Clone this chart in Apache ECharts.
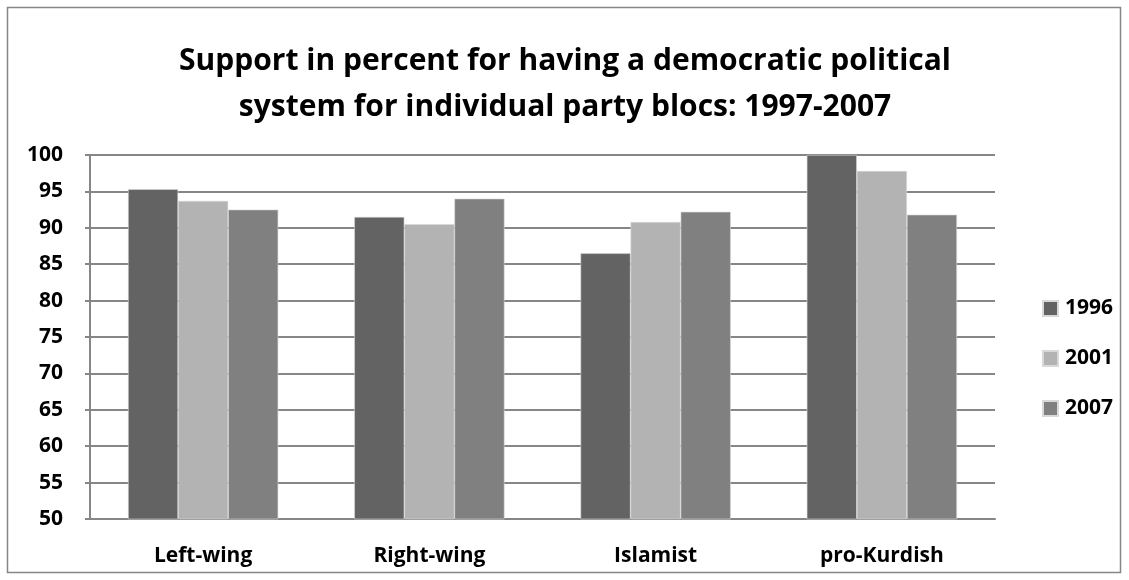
<!DOCTYPE html>
<html>
<head>
<meta charset="utf-8">
<script src="https://cdn.jsdelivr.net/npm/echarts@6/dist/echarts.min.js"></script>
<style>
  html, body { margin: 0; padding: 0; background: #fff; }
  #chart { width: 1129px; height: 580px; }
</style>
</head>
<body>
<div id="chart"></div>
<script>
// Party blocs and yearly support values (percent)
const categories = ['Left-wing', 'Right-wing', 'Islamist', 'pro-Kurdish'];
const seriesNames = ['1996', '2001', '2007'];
const values1996 = [95.3, 91.5, 86.5, 100];
const values2001 = [93.7, 90.5, 90.8, 97.8];
const values2007 = [92.5, 94.0, 92.2, 91.8];
const yTicks = [50, 55, 60, 65, 70, 75, 80, 85, 90, 95, 100];

const colors = ['#636363', '#b3b3b3', '#808080'];
const font = '"Open Sans", "DejaVu Sans", sans-serif';

const chart = echarts.init(document.getElementById('chart'), null, { renderer: 'canvas' });

const seriesData = [values1996, values2001, values2007];

chart.setOption({
  animation: false,
  backgroundColor: '#fff',
  title: {
    text: 'Support in percent for having a democratic political\nsystem for individual party blocs: 1997-2007',
    left: 560,
    textAlign: 'center',
    top: 33,
    textStyle: {
      fontFamily: font,
      fontWeight: 'bold',
      fontSize: 30,
      lineHeight: 46,
      color: '#000'
    }
  },
  legend: {
    orient: 'vertical',
    left: 1037,
    top: 293,
    itemWidth: 15,
    itemHeight: 15,
    itemGap: 29,
    icon: 'rect',
    data: seriesNames,
    textStyle: { fontFamily: font, fontWeight: 'bold', fontSize: 21, color: '#000', padding: [0, 0, 0, 2] }
  },
  grid: { left: 90, right: 134, top: 155, bottom: 61 },
  xAxis: {
    type: 'category',
    data: categories,
    axisLine: { lineStyle: { color: '#868686', width: 2 } },
    axisTick: { show: false },
    axisLabel: {
      fontFamily: font,
      fontWeight: 'bold',
      fontSize: 21,
      color: '#000',
      margin: 27
    }
  },
  yAxis: {
    type: 'value',
    min: yTicks[0],
    max: yTicks[yTicks.length - 1],
    interval: 5,
    axisLine: { show: true, lineStyle: { color: '#868686', width: 2 } },
    axisTick: { show: true, length: 5, lineStyle: { color: '#868686', width: 2 } },
    splitLine: { lineStyle: { color: '#868686', width: 2 } },
    axisLabel: {
      fontFamily: font,
      fontWeight: 'bold',
      fontSize: 21,
      color: '#000',
      margin: 27
    }
  },
  series: seriesNames.map((name, i) => ({
    name: name,
    type: 'bar',
    data: seriesData[i],
    barGap: '0%',
    barCategoryGap: '33.6%',
    itemStyle: { color: colors[i], borderColor: '#d9d9d9', borderWidth: 0.6 }
  })),
  graphic: [{
    type: 'rect',
    shape: { x: 7.5, y: 7.5, width: 1113, height: 565 },
    style: { fill: 'none', stroke: '#868686', lineWidth: 1.5 },
    silent: true,
    z: 100
  }]
});
</script>
</body>
</html>
